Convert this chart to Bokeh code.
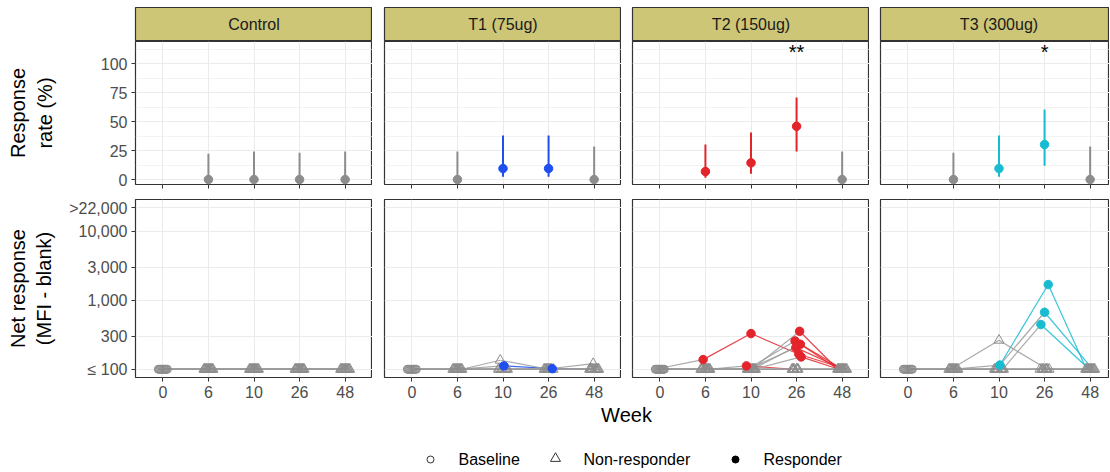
from bokeh.plotting import figure
from bokeh.layouts import column, row
from bokeh.models import Range1d, FixedTicker, ColumnDataSource, Label
from bokeh.embed import file_html
from bokeh.resources import INLINE
from bokeh.core.properties import value

# ---------------- data ----------------
groups = ["Control", "T1 (75ug)", "T2 (150ug)", "T3 (300ug)"]
group_colors = ["#8C8C8C", "#1F4FEF", "#E3242B", "#18BCD1"]
weeks = ["0", "6", "10", "26", "48"]
rate_weeks = ["6", "10", "26", "48"]

# response rate (%) with confidence interval, weeks 6, 10, 26, 48
control_rate = [0, 0, 0, 0]
control_lo = [0, 0, 0, 0]
control_hi = [22.2, 24.2, 23.1, 24.2]
t1_rate = [0, 9.5, 9.5, 0]
t1_lo = [0, 2.5, 2.5, 0]
t1_hi = [24.2, 38.0, 38.0, 28.5]
t2_rate = [6.9, 14.4, 46.0, 0]
t2_lo = [1.5, 4.9, 24.2, 0]
t2_hi = [30.2, 40.6, 70.9, 24.2]
t3_rate = [0, 9.5, 30.2, 0]
t3_lo = [0, 2.5, 11.8, 0]
t3_hi = [23.1, 38.0, 60.5, 28.5]
signif_week = "26"
signif = ["", "", "**", "*"]

# net response (MFI - blank) per subject, weeks 0, 6, 10, 26, 48 (floored at 100)
control_mfi = [
    [100, 100, 100, 100, 100], [100, 100, 100, 100, 100], [100, 100, 100, 100, 100],
    [100, 100, 100, 100, 100], [100, 100, 100, 100, 100], [100, 100, 100, 100, 100],
    [100, 100, 100, 100, 100], [100, 100, 100, 100, 100], [100, 100, 100, 100, 100],
    [100, 100, 100, 100, 100], [100, 100, 100, 100, 100], [100, 100, 100, 100, 100],
]
control_resp = [
    [0, 0, 0, 0, 0], [0, 0, 0, 0, 0], [0, 0, 0, 0, 0], [0, 0, 0, 0, 0],
    [0, 0, 0, 0, 0], [0, 0, 0, 0, 0], [0, 0, 0, 0, 0], [0, 0, 0, 0, 0],
    [0, 0, 0, 0, 0], [0, 0, 0, 0, 0], [0, 0, 0, 0, 0], [0, 0, 0, 0, 0],
]
t1_mfi = [
    [100, 100, 112, 102, 100], [100, 100, 135, 100, 100], [100, 100, 100, 100, 121],
    [100, 100, 100, 100, 100], [100, 100, 100, 100, 100], [100, 100, 100, 100, 100],
    [100, 100, 100, 100, 100], [100, 100, 100, 100, 100], [100, 100, 100, 100, 100],
    [100, 100, 100, 100, 100], [100, 100, 100, 100, 100],
]
t1_resp = [
    [0, 0, 1, 1, 0], [0, 0, 0, 0, 0], [0, 0, 0, 0, 0], [0, 0, 0, 0, 0],
    [0, 0, 0, 0, 0], [0, 0, 0, 0, 0], [0, 0, 0, 0, 0], [0, 0, 0, 0, 0],
    [0, 0, 0, 0, 0], [0, 0, 0, 0, 0], [0, 0, 0, 0, 0],
]
t2_mfi = [
    [100, 138, 329, 165, 100], [100, 100, 112, 100, 100], [100, 100, 100, 355, 100],
    [100, 100, 100, 257, 100], [100, 100, 100, 230, 100], [100, 100, 100, 206, 100],
    [100, 100, 100, 151, 100], [100, 100, 100, 100, 100], [100, 100, 100, 100, 100],
    [100, 100, 100, 100, 100], [100, 100, 100, 100, 100], [100, 100, 100, 100, 100],
    [100, 100, 100, 100, 100],
]
t2_resp = [
    [0, 1, 1, 1, 0], [0, 0, 1, 0, 0], [0, 0, 0, 1, 0], [0, 0, 0, 1, 0],
    [0, 0, 0, 1, 0], [0, 0, 0, 1, 0], [0, 0, 0, 1, 0], [0, 0, 0, 0, 0],
    [0, 0, 0, 0, 0], [0, 0, 0, 0, 0], [0, 0, 0, 0, 0], [0, 0, 0, 0, 0],
    [0, 0, 0, 0, 0],
]
t3_mfi = [
    [100, 100, 115, 1687, 100], [100, 100, 100, 670, 100], [100, 100, 100, 445, 100],
    [100, 100, 263, 100, 100], [100, 100, 100, 100, 100], [100, 100, 100, 100, 100],
    [100, 100, 100, 100, 100], [100, 100, 100, 100, 100], [100, 100, 100, 100, 100],
    [100, 100, 100, 100, 100], [100, 100, 100, 100, 100],
]
t3_resp = [
    [0, 0, 1, 1, 0], [0, 0, 0, 1, 0], [0, 0, 0, 1, 0], [0, 0, 0, 0, 0],
    [0, 0, 0, 0, 0], [0, 0, 0, 0, 0], [0, 0, 0, 0, 0], [0, 0, 0, 0, 0],
    [0, 0, 0, 0, 0], [0, 0, 0, 0, 0], [0, 0, 0, 0, 0],
]

rate_ticks = [0, 25, 50, 75, 100]
rate_minor = [12.5, 37.5, 62.5, 87.5, 112.5]
mfi_ticks = [100, 300, 1000, 3000, 10000, 22000]
mfi_labels = ["\u2264 100", "300", "1,000", "3,000", "10,000", ">22,000"]
legend_labels = ["Baseline", "Non-responder", "Responder"]

rates = [control_rate, t1_rate, t2_rate, t3_rate]
los = [control_lo, t1_lo, t2_lo, t3_lo]
his = [control_hi, t1_hi, t2_hi, t3_hi]
mfis = [control_mfi, t1_mfi, t2_mfi, t3_mfi]
resps = [control_resp, t1_resp, t2_resp, t3_resp]

# ---------------- style / layout ----------------
FONT = "Liberation Sans"
GRAY = "#8C8C8C"
LINE_GRAY = "#9A9A9A"
STRIP = "#CDC677"
BORDER = "#333333"
GRID = "#EBEBEB"
TICKTXT = "#4D4D4D"
FULL_FRAME = 237
W = [372, 249, 248, 240]
BL = [135, 12, 11, 11]
PX_PER_UNIT = FULL_FRAME / 5.2
X0 = 0.4
JIT = 0.1
wpos = {wk: i + 1 for i, wk in enumerate(weeks)}
week_pos = list(wpos.values())


def jitter(i, w, n):
    return JIT * (2.0 * ((i * 7 + w * 3) % n) / (n - 1) - 1.0)


def base_fig(i, height, y_range, bottom, **kw):
    xe = X0 + (W[i] - BL[i]) / PX_PER_UNIT
    p = figure(width=W[i], height=height, x_range=Range1d(X0, xe), y_range=y_range,
               min_border_left=BL[i], min_border_right=0, min_border_top=0,
               min_border_bottom=bottom, toolbar_location=None, output_backend="svg", **kw)
    p.outline_line_color = BORDER
    p.outline_line_width = 1.2
    p.background_fill_color = "white"
    p.border_fill_color = "white"
    for ax in p.axis:
        ax.axis_line_color = None
        ax.major_tick_line_color = BORDER
        ax.major_tick_out = 4
        ax.major_tick_in = 0
        ax.minor_tick_line_color = None
        ax.major_label_text_font = FONT
        ax.major_label_text_font_size = "16px"
        ax.major_label_text_color = TICKTXT
        ax.major_label_standoff = 4
        ax.axis_label_text_font = FONT
        ax.axis_label_text_font_size = "20px"
        ax.axis_label_text_font_style = "normal"
        ax.axis_label_text_color = "black"
    p.xgrid.ticker = FixedTicker(ticks=week_pos)
    p.xgrid.grid_line_color = GRID
    p.xgrid.grid_line_width = 1.1
    p.ygrid.grid_line_color = GRID
    p.ygrid.grid_line_width = 1.1
    return p


strips, tops, bottoms = [], [], []
for gi, g in enumerate(groups):
    # ---- strip ----
    fw = W[gi] - BL[gi]
    s = figure(width=W[gi], height=41, x_range=Range1d(0, fw / FULL_FRAME), y_range=Range1d(0, 1),
               min_border_left=BL[gi], min_border_right=0, min_border_top=7, min_border_bottom=0,
               toolbar_location=None, output_backend="svg")
    s.axis.visible = False
    s.grid.visible = False
    s.background_fill_color = STRIP
    s.border_fill_color = "white"
    s.outline_line_color = BORDER
    s.outline_line_width = 1.2
    s.add_layout(Label(x=0.5, y=0.5, text=g, text_align="center", text_baseline="middle",
                       text_font=FONT, text_font_size="16px", text_color="#1A1A1A"))
    strips.append(s)

    # ---- top: response rate ----
    t = base_fig(gi, 158, Range1d(-4.3, 119.3), 15)
    rt = FixedTicker(ticks=rate_ticks, minor_ticks=rate_minor)
    t.yaxis.ticker = rt
    t.ygrid.ticker = rt
    t.ygrid.minor_grid_line_color = GRID
    t.ygrid.minor_grid_line_width = 0.6
    # tick marks only (no labels) under the upper panels
    t.xaxis.ticker = FixedTicker(ticks=[], minor_ticks=week_pos)
    t.xaxis.minor_tick_line_color = BORDER
    t.xaxis.minor_tick_out = 4
    t.xaxis.minor_tick_in = 0
    if gi == 0:
        t.yaxis.axis_label = "Response\nrate (%)"
        t.yaxis.axis_label_standoff = 42
    else:
        t.yaxis.visible = False
    cols = [group_colors[gi] if r > 0 else GRAY for r in rates[gi]]
    src = ColumnDataSource(dict(x=[wpos[w] for w in rate_weeks], r=rates[gi], lo=los[gi],
                                hi=his[gi], c=cols))
    t.segment(x0="x", y0="lo", x1="x", y1="hi", color="c", line_width=2, source=src)
    t.scatter(x="x", y="r", color="c", size=8.5, source=src)
    if signif[gi]:
        t.text(x=[wpos[signif_week]], y=[110], text=[signif[gi]], text_align="center",
               text_baseline="middle", text_font=value(FONT), text_font_size="20px",
               text_color="black")
    tops.append(t)

    # ---- bottom: net response ----
    b = base_fig(gi, 206, Range1d(76, 28800), 28, y_axis_type="log")
    mt = FixedTicker(ticks=mfi_ticks)
    b.yaxis.ticker = mt
    b.ygrid.ticker = mt
    b.yaxis.major_label_overrides = {t_: l_ for t_, l_ in zip(mfi_ticks, mfi_labels)}
    b.xaxis.ticker = FixedTicker(ticks=week_pos)
    b.xaxis.major_label_overrides = {wpos[w]: w for w in weeks}
    if gi == 0:
        b.yaxis.axis_label = "Net response\n(MFI - blank)"
        b.yaxis.axis_label_standoff = 11
    else:
        b.yaxis.visible = False
    vals, flags = mfis[gi], resps[gi]
    n = len(vals)
    seg = dict(x0=[], y0=[], x1=[], y1=[], c=[])
    base = dict(x=[], y=[])
    nonr = dict(x=[], y=[])
    resp = dict(x=[], y=[])
    for i in range(n):
        xs = [w + 1 + jitter(i, w, n) for w in range(len(weeks))]
        for w in range(len(weeks) - 1):
            seg["x0"].append(xs[w]); seg["y0"].append(vals[i][w])
            seg["x1"].append(xs[w + 1]); seg["y1"].append(vals[i][w + 1])
            seg["c"].append(group_colors[gi] if flags[i][w] else LINE_GRAY)
        for w in range(len(weeks)):
            if w == 0:
                d = base
            elif flags[i][w]:
                d = resp
            else:
                d = nonr
            d["x"].append(xs[w]); d["y"].append(vals[i][w])
    b.segment(x0="x0", y0="y0", x1="x1", y1="y1", color="c", line_width=1.2, line_alpha=0.85,
              source=ColumnDataSource(seg))
    b.scatter(x="x", y="y", marker="circle", size=8, fill_color=None, line_color=GRAY,
              line_width=1, source=ColumnDataSource(base))
    b.scatter(x="x", y="y", marker="triangle", size=10, fill_color=None, line_color=GRAY,
              line_width=1, source=ColumnDataSource(nonr))
    b.scatter(x="x", y="y", marker="circle", size=8.5, color=group_colors[gi],
              source=ColumnDataSource(resp))
    bottoms.append(b)

# ---- footer: x title + legend ----
FH = 65
f = figure(width=sum(W), height=FH, x_range=Range1d(0, sum(W)), y_range=Range1d(FH, 0),
           min_border=0, toolbar_location=None, output_backend="svg")
f.axis.visible = False
f.grid.visible = False
f.outline_line_color = None
f.add_layout(Label(x=626, y=9, text="Week", text_align="center", text_baseline="middle",
                   text_font=FONT, text_font_size="20px", text_color="black"))
LEG_Y = 54
leg_glyph_x = [430, 555, 735]
leg_text_x = [458, 583, 763]
f.scatter(x=[leg_glyph_x[0]], y=[LEG_Y], marker="circle", size=7, fill_color=None,
          line_color="#333333", line_width=1)
f.scatter(x=[leg_glyph_x[1]], y=[LEG_Y - 1], marker="triangle", size=10, fill_color=None,
          line_color="#333333", line_width=1)
f.scatter(x=[leg_glyph_x[2]], y=[LEG_Y], marker="circle", size=7, color="black")
f.text(x=leg_text_x, y=[LEG_Y] * 3, text=legend_labels, text_baseline="middle",
       text_font=value(FONT), text_font_size="16px", text_color="black")

layout = column(row(*strips), row(*tops), row(*bottoms), f)
open("out.html", "w").write(file_html(layout, INLINE))
